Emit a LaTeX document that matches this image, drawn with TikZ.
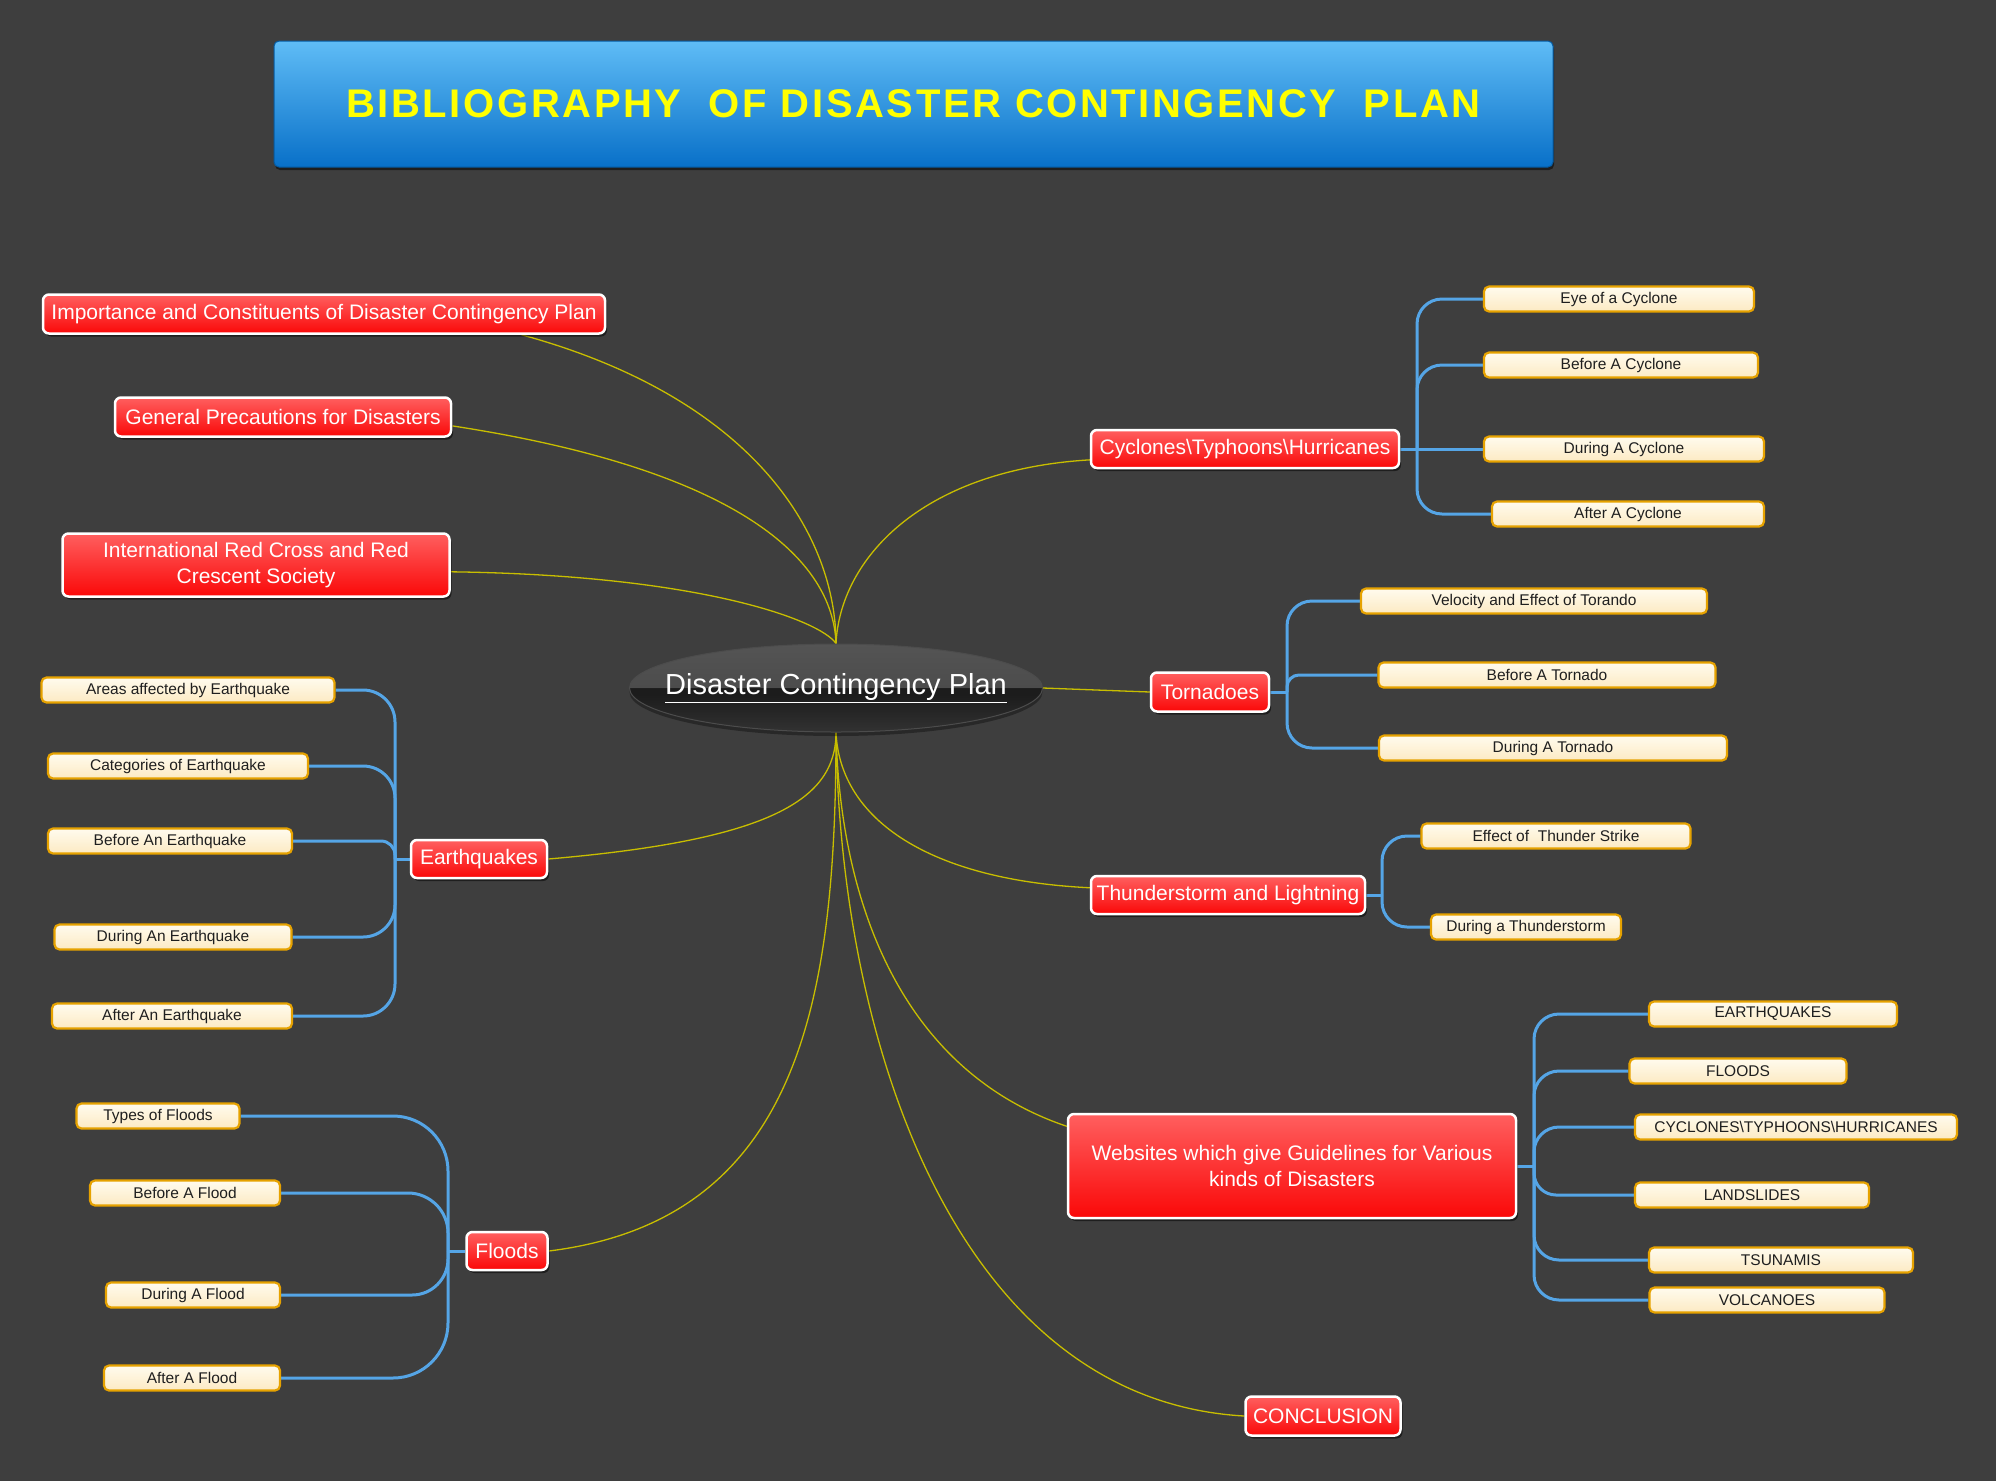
\documentclass[tikz,border=0pt]{standalone}
\usepackage{fontspec}
\setmainfont{Liberation Sans}
\usetikzlibrary{shapes.geometric,shadows,calc}
\definecolor{bgc}{RGB}{62,62,62}
\definecolor{redtop}{RGB}{255,95,95}
\definecolor{redbot}{RGB}{250,8,8}
\definecolor{creamtop}{RGB}{255,251,238}
\definecolor{creambot}{RGB}{252,234,195}
\definecolor{leafborder}{RGB}{230,162,0}
\definecolor{bluec}{RGB}{85,165,230}
\definecolor{yellowc}{RGB}{200,190,0}
\definecolor{titletop}{RGB}{95,188,246}
\definecolor{titlebot}{RGB}{8,112,200}
\definecolor{titletext}{RGB}{255,255,0}
\definecolor{ellT}{RGB}{84,84,84}
\definecolor{ellM}{RGB}{76,76,76}
\definecolor{ellB}{RGB}{28,28,28}
\definecolor{ellD}{RGB}{50,50,50}
\pgfdeclareverticalshading{glassy}{100bp}{color(0bp)=(ellD); color(25bp)=(ellD); color(46bp)=(ellB); color(50bp)=(ellB); color(50.5bp)=(ellM); color(75bp)=(ellT); color(100bp)=(ellT)}
\pgfdeclarelayer{back}
\pgfdeclarelayer{conn}
\pgfsetlayers{back,conn,main}
\tikzset{
  redbox/.style={draw=white, line width=2.5pt, rounded corners=6pt, top color=redtop, bottom color=redbot,
    text=white, font=\fontsize{21}{25.5}\selectfont, inner sep=0pt,
    drop shadow={shadow xshift=2pt, shadow yshift=-3pt, opacity=0.5, fill=black}},
  leaf/.style={draw=leafborder, line width=2.2pt, rounded corners=5pt, top color=creamtop, bottom color=creambot,
    text=black!88, font=\fontsize{15.5}{18}\selectfont, inner sep=0pt, minimum height=25pt},
  bconn/.style={draw=bluec, line width=3pt},
  yconn/.style={draw=yellowc, line width=1.3pt},
}
\begin{document}
\begin{tikzpicture}[x=1pt,y=-1pt]
\begin{pgfonlayer}{back}
\fill[bgc] (0,0) rectangle (1996,1481);
\end{pgfonlayer}
\useasboundingbox (0,0) rectangle (1996,1481);

% title
\node[draw=titlebot!80!black, line width=1pt, rounded corners=5pt, top color=titletop, bottom color=titlebot,
  minimum width=1279pt, minimum height=126pt, inner sep=0pt,
  drop shadow={shadow xshift=1pt, shadow yshift=-3pt, opacity=0.5, fill=black}] (title) at (913.5,104)
  {\fontsize{40}{48}\selectfont\bfseries\addfontfeature{LetterSpace=6.5}\color{titletext}BIBLIOGRAPHY\ \ OF DISASTER CONTINGENCY\ \ PLAN};

% central
\node[ellipse, draw=black!70, line width=1pt, shading=glassy, minimum width=413pt, minimum height=88pt,
  inner xsep=-30pt, inner ysep=0pt,
  drop shadow={shadow xshift=0pt, shadow yshift=-4pt, opacity=0.35, fill=black}] (cen) at (836,688)
  {\fontsize{29}{34}\selectfont\color{white}\underline{Disaster Contingency Plan}};

% main branches
\node[redbox, minimum width=562pt, minimum height=39pt] (imp) at (324,314) {Importance and Constituents of Disaster Contingency Plan};
\node[redbox, minimum width=336pt, minimum height=39pt] (gen) at (283,417) {General Precautions for Disasters};
\node[redbox, minimum width=387pt, minimum height=63pt, align=center] (irc) at (256,565) {International Red Cross and Red\\Crescent Society};
\node[redbox, minimum width=308pt, minimum height=38pt] (cyc) at (1245,449) {Cyclones\textbackslash Typhoons\textbackslash Hurricanes};
\node[redbox, minimum width=118pt, minimum height=39pt] (tor) at (1210,692) {Tornadoes};
\node[redbox, minimum width=136pt, minimum height=38pt] (eq) at (479,859) {Earthquakes};
\node[redbox, minimum width=274pt, minimum height=38pt] (thu) at (1228,895) {Thunderstorm and Lightning};
\node[redbox, minimum width=448pt, minimum height=104pt, align=center] (web) at (1292,1166) {Websites which give Guidelines for Various\\kinds of Disasters};
\node[redbox, minimum width=81pt, minimum height=38pt] (fl) at (507,1251) {Floods};
\node[redbox, minimum width=155pt, minimum height=39pt] (con) at (1323,1416) {CONCLUSION};

% leaves: cyclones
\node[leaf, minimum width=270pt] (c1) at (1619,299) {Eye of a Cyclone};
\node[leaf, minimum width=274pt] (c2) at (1621,365) {Before A Cyclone};
\node[leaf, minimum width=280pt] (c3) at (1624,449) {During A Cyclone};
\node[leaf, minimum width=272pt] (c4) at (1628,514) {After A Cyclone};
% tornado
\node[leaf, minimum width=346pt] (t1) at (1534,601) {Velocity and Effect of Torando};
\node[leaf, minimum width=337pt] (t2) at (1547,675) {Before A Tornado};
\node[leaf, minimum width=348pt] (t3) at (1553,748) {During A Tornado};
% thunder
\node[leaf, minimum width=269pt] (h1) at (1556,836) {Effect of\ \ Thunder Strike};
\node[leaf, minimum width=190pt] (h2) at (1526,927) {During a Thunderstorm};
% websites
\node[leaf, minimum width=248pt] (w1) at (1773,1014) {EARTHQUAKES};
\node[leaf, minimum width=217pt] (w2) at (1738,1071) {FLOODS};
\node[leaf, minimum width=322pt] (w3) at (1796,1127) {CYCLONES\textbackslash TYPHOONS\textbackslash HURRICANES};
\node[leaf, minimum width=234pt] (w4) at (1752,1195) {LANDSLIDES};
\node[leaf, minimum width=264pt] (w5) at (1781,1260) {TSUNAMIS};
\node[leaf, minimum width=235pt] (w6) at (1767,1300) {VOLCANOES};
% earthquakes
\node[leaf, minimum width=293pt] (e1) at (188,690) {Areas affected by Earthquake};
\node[leaf, minimum width=260pt] (e2) at (178,766) {Categories of Earthquake};
\node[leaf, minimum width=244pt] (e3) at (170,841) {Before An Earthquake};
\node[leaf, minimum width=237pt] (e4) at (173,937) {During An Earthquake};
\node[leaf, minimum width=240pt] (e5) at (172,1016) {After An Earthquake};
% floods
\node[leaf, minimum width=163pt] (f1) at (158,1116) {Types of Floods};
\node[leaf, minimum width=190pt] (f2) at (185,1193) {Before A Flood};
\node[leaf, minimum width=174pt] (f3) at (193,1295) {During A Flood};
\node[leaf, minimum width=176pt] (f4) at (192,1378) {After A Flood};

% spine coordinates
\coordinate (cycS) at (1417,449);
\coordinate (torS) at (1287,692);
\coordinate (thuS) at (1382,895);
\coordinate (webS) at (1534,1166);
\coordinate (eqS) at (395,859);
\coordinate (flS) at (448,1251);

\begin{pgfonlayer}{conn}
% yellow connectors
\draw[yconn] (cen.north) .. controls (836,540) and (760,400) .. (imp.-6.5);
\draw[yconn] (cen.north) .. controls (833,560) and (740,470) .. (gen.-3);
\draw[yconn] (cen.north) .. controls (820,620) and (700,575) .. (irc.-2);
\draw[yconn] (cen.north) .. controls (840,560) and (920,470) .. (cyc.184);
\draw[yconn] (cen.east) -- (tor.west);
\draw[yconn] (cen.south) .. controls (836,800) and (770,840) .. (eq.east);
\draw[yconn] (cen.south) .. controls (840,820) and (930,880) .. (thu.177);
\draw[yconn] (cen.south) .. controls (840,900) and (900,1070) .. (web.170);
\draw[yconn] (cen.south) .. controls (836,1000) and (800,1220) .. (fl.east);
\draw[yconn] (cen.south) .. controls (840,1050) and (960,1400) .. (con.west);

% blue connectors
\draw[bconn] (cyc.east) -- (cycS);
\draw[bconn, rounded corners=25pt] (cycS) |- (c1.west);
\draw[bconn, rounded corners=25pt] (cycS) |- (c2.west);
\draw[bconn] (cycS) -- (c3.west);
\draw[bconn, rounded corners=25pt] (cycS) |- (c4.west);

\draw[bconn] (tor.east) -- (torS);
\draw[bconn, rounded corners=25pt] (torS) |- (t1.west);
\draw[bconn, rounded corners=12pt] (torS) |- (t2.west);
\draw[bconn, rounded corners=25pt] (torS) |- (t3.west);

\draw[bconn] (thu.east) -- (thuS);
\draw[bconn, rounded corners=25pt] (thuS) |- (h1.west);
\draw[bconn, rounded corners=25pt] (thuS) |- (h2.west);

\draw[bconn] (web.east) -- (webS);
\draw[bconn, rounded corners=25pt] (webS) |- (w1.west);
\draw[bconn, rounded corners=25pt] (webS) |- (w2.west);
\draw[bconn, rounded corners=25pt] (webS) |- (w3.west);
\draw[bconn, rounded corners=22pt] (webS) |- (w4.west);
\draw[bconn, rounded corners=25pt] (webS) |- (w5.west);
\draw[bconn, rounded corners=25pt] (webS) |- (w6.west);

\draw[bconn] (eq.west) -- (eqS);
\draw[bconn, rounded corners=32pt] (eqS) |- (e1.east);
\draw[bconn, rounded corners=32pt] (eqS) |- (e2.east);
\draw[bconn, rounded corners=14pt] (eqS) |- (e3.east);
\draw[bconn, rounded corners=32pt] (eqS) |- (e4.east);
\draw[bconn, rounded corners=32pt] (eqS) |- (e5.east);

\draw[bconn] (fl.west) -- (flS);
\draw[bconn, rounded corners=55pt] (flS) |- (f1.east);
\draw[bconn, rounded corners=40pt] (flS) |- (f2.east);
\draw[bconn, rounded corners=36pt] (flS) |- (f3.east);
\draw[bconn, rounded corners=55pt] (flS) |- (f4.east);
\end{pgfonlayer}
\end{tikzpicture}
\end{document}
